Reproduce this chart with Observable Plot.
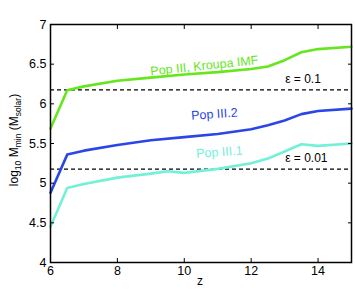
<!DOCTYPE html>
<html><head><meta charset="utf-8">
<script src="https://cdn.jsdelivr.net/npm/d3@7"></script>
<script src="https://cdn.jsdelivr.net/npm/@observablehq/plot@0.6"></script>
<style>
body{margin:0;background:#fff}
svg{font-family:"Liberation Sans",Arial,Helvetica,sans-serif}
</style>
</head><body><div id="chart"></div>
<script>
// redshift samples
const zKroupa = [6, 6.5, 7, 8, 9, 10, 11, 12, 12.5, 13, 13.5, 14, 15];
const mKroupa = [5.69, 6.17, 6.22, 6.29, 6.33, 6.37, 6.40, 6.44, 6.47, 6.55, 6.65, 6.69, 6.72];
const zPop2 = [6, 6.5, 7, 8, 9, 10, 11, 12, 12.5, 13, 13.5, 14, 15];
const mPop2 = [4.88, 5.36, 5.41, 5.48, 5.54, 5.58, 5.62, 5.68, 5.73, 5.79, 5.87, 5.91, 5.94];
const zPop1 = [6, 6.5, 7, 8, 9, 9.5, 10, 11, 12, 12.5, 13, 13.5, 14, 15];
const mPop1 = [4.45, 4.94, 4.99, 5.07, 5.12, 5.15, 5.13, 5.18, 5.25, 5.31, 5.40, 5.49, 5.47, 5.50];
const epsValues = [6.176, 5.176];
const epsLabels = ["ε = 0.1", "ε = 0.01"];
const xTicks = [6, 8, 10, 12, 14];
const yTicks = [4, 4.5, 5, 5.5, 6, 6.5, 7];
const seriesNames = ["Pop III, Kroupa IMF", "Pop III.2", "Pop III.1"];
const seriesColors = ["#66e61c", "#2a46e8", "#72f0d8"];

const toRows = (zs, ms) => zs.map((z, i) => ({z, m: ms[i]}));
const kroupa = toRows(zKroupa, mKroupa);
const pop2 = toRows(zPop2, mPop2);
const pop1 = toRows(zPop1, mPop1);

const seriesLabels = [
  {z: 10.6, m: 6.48, text: seriesNames[0], color: seriesColors[0], rot: -6},
  {z: 10.9, m: 5.87, text: seriesNames[1], color: seriesColors[1], rot: -4},
  {z: 11.05, m: 5.39, text: seriesNames[2], color: seriesColors[2], rot: -4}
];
const epsText = [
  {z: 13.55, m: 6.31, text: epsLabels[0]},
  {z: 13.65, m: 5.31, text: epsLabels[1]}
];

const chart = Plot.plot({
  width: 355,
  height: 291,
  marginLeft: 50,
  marginRight: 4,
  marginTop: 24,
  marginBottom: 29,
  style: {fontSize: "12px", color: "#000", background: "#fff"},
  x: {domain: [6, 15]},
  y: {domain: [4, 7]},
  marks: [
    Plot.ruleY(epsValues, {stroke: "#000", strokeWidth: 1.2, strokeDasharray: "4,3"}),
    Plot.line(kroupa, {x: "z", y: "m", stroke: seriesColors[0], strokeWidth: 2.6}),
    Plot.line(pop2, {x: "z", y: "m", stroke: seriesColors[1], strokeWidth: 2.6}),
    Plot.line(pop1, {x: "z", y: "m", stroke: seriesColors[2], strokeWidth: 2.6}),
    ...seriesLabels.map(d => Plot.text([d], {x: "z", y: "m", text: "text", fill: d.color, rotate: d.rot, fontSize: 12.5})),
    Plot.text(epsText, {x: "z", y: "m", text: "text", fill: "#000", fontSize: 12}),
    Plot.frame({stroke: "#000", strokeWidth: 1.5}),
    Plot.axisX({ticks: xTicks, tickSize: -4, tickPadding: 8, label: null, fontSize: 12.5}),
    Plot.axisX({anchor: "top", ticks: xTicks, tickSize: -4, tickFormat: () => "", label: null}),
    Plot.axisY({ticks: yTicks, tickSize: -4, tickPadding: 8, label: null, tickFormat: d => String(d), fontSize: 12.5}),
    Plot.axisY({anchor: "right", ticks: yTicks, tickSize: -4, tickFormat: () => "", label: null})
  ]
});
document.getElementById("chart").appendChild(chart);

const svg = d3.select(chart);
svg.append("text")
  .attr("x", 200).attr("y", 285)
  .attr("text-anchor", "middle")
  .attr("font-size", 12)
  .text("z");
const yl = svg.append("text")
  .attr("transform", "translate(18,140) rotate(-90)")
  .attr("text-anchor", "middle")
  .attr("font-size", 12);
yl.append("tspan").text("log");
yl.append("tspan").attr("font-size", 8.5).attr("dy", 3).text("10");
yl.append("tspan").attr("dy", -3).text(" M");
yl.append("tspan").attr("font-size", 8.5).attr("dy", 3).text("min");
yl.append("tspan").attr("dy", -3).text(" (M");
yl.append("tspan").attr("font-size", 8.5).attr("dy", 3).text("solar");
yl.append("tspan").attr("dy", -3).text(")");
</script>
</body></html>
